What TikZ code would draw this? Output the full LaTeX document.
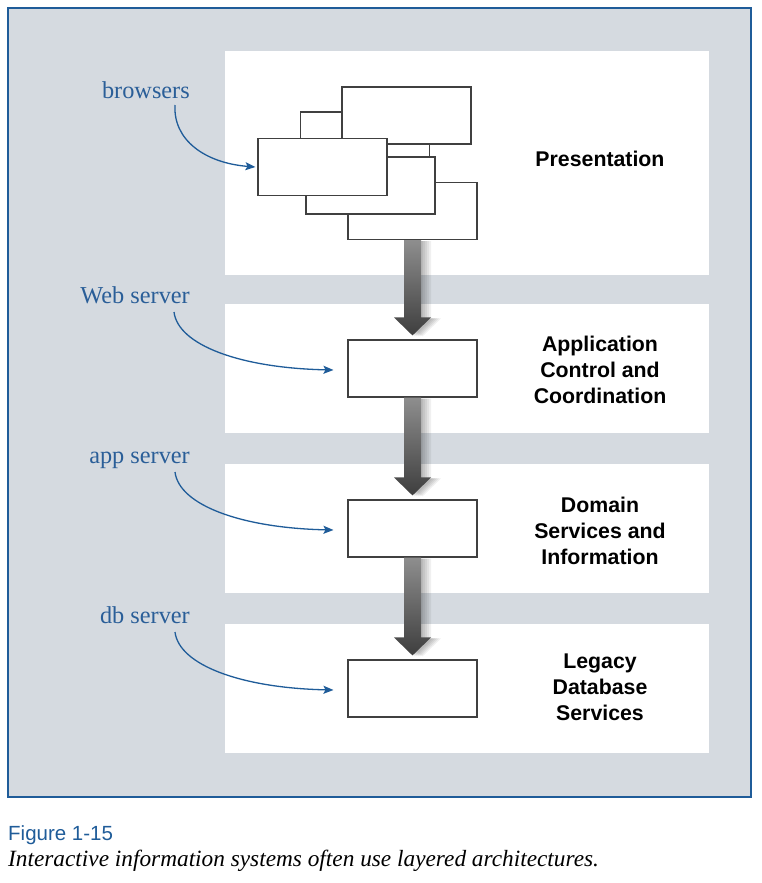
\documentclass[tikz,border=0pt]{standalone}
\usepackage{fontspec}
\newfontfamily\sansf{Liberation Sans}
\newfontfamily\seriff{Liberation Serif}
\usetikzlibrary{calc,arrows.meta}
\definecolor{bgray}{HTML}{D5DAE0}
\definecolor{fblue}{HTML}{1F5C99}
\definecolor{tblue}{HTML}{2A5E98}
\definecolor{atop}{HTML}{8E8E8E}
\definecolor{abot}{HTML}{3E3E3E}
\begin{document}
\begin{tikzpicture}[x=1pt,y=-1pt,
 win/.style={draw=black!75, line width=1.1pt, fill=white, inner sep=0pt, minimum width=129pt, minimum height=57pt},
 lbl/.style={text=tblue, font=\seriff\fontsize{24.3}{26}\selectfont, inner sep=0pt, anchor=base east},
 layer/.style={font=\sansf\bfseries\fontsize{21.3}{26}\selectfont, align=center, inner sep=0pt},
 curv/.style={draw=fblue, line width=1.3pt, -{Stealth[length=10pt,width=8pt,inset=2pt]}},
 fat/.style={top color=atop, bottom color=abot, draw=none},
 shad/.style={fill=black, opacity=0.06, draw=none}
]
\useasboundingbox (0,0) rectangle (761,883);
\filldraw[fill=bgray, draw=fblue, line width=2pt] (8,8) rectangle (751,797);
\fill[white] (225,51) rectangle (709,275);
\fill[white] (225,304) rectangle (709,433);
\fill[white] (225,464) rectangle (709,593);
\fill[white] (225,624) rectangle (709,753);

% browser windows (back to front)
\node[win] (E) at (412.5,211) {};
\node[win] (B) at (365,140.5) {};
\node[win] (A) at (406.5,115.5) {};
\node[win] (D) at (370.5,185.5) {};
\node[win] (C) at (322.5,167) {};

% server boxes
\node[win] (W) at (412.5,368.5) {};
\node[win] (P) at (412.5,528.5) {};
\node[win] (Q) at (412.5,688.5) {};

% layer titles
\node[layer] (t1) at (600,159) {Presentation};
\node[layer] (t2) at (600,370) {Application\\Control and\\Coordination};
\node[layer] (t3) at (600,531) {Domain\\Services and\\Information};
\node[layer] (t4) at (600,687) {Legacy\\Database\\Services};

% labels
\node[lbl] (l1) at (190,99) {browsers};
\node[lbl] (l2) at (190,303) {Web server};
\node[lbl] (l3) at (190,463) {app server};
\node[lbl] (l4) at (190,623) {db server};

\coordinate (s1) at (175,105);
\coordinate (s2) at (174,312);
\coordinate (s3) at (175,472);
\coordinate (s4) at (175,632);

\draw[curv] (s1) .. controls (173,140) and (205,163) .. ([xshift=-2pt]C.west);
\draw[curv] (s2) .. controls (178,345) and (240,368) .. ([xshift=-14pt,yshift=-1.5pt]W.west);
\draw[curv] (s3) .. controls (179,505) and (241,528) .. ([xshift=-14pt,yshift=-1.5pt]P.west);
\draw[curv] (s4) .. controls (179,665) and (241,688) .. ([xshift=-14pt,yshift=-1.5pt]Q.west);

% fat arrows with soft shadow
\foreach \s/\t in {E/W, W/P, P/Q}{
\foreach \d in {2,4,6,8,10}{
\path[shad] let \p1=(\s.south), \p2=(\t.north) in
  (\x1-8.5pt+\d pt,\y1-1pt) -- (\x1+8.5pt+\d pt,\y1-1pt) -- (\x1+8.5pt+\d pt,\y2+22pt-1pt) -- (\x1+18.5pt+\d pt,\y2+22pt-1pt)
  -- (\x1+\d pt,\y2+4pt-1pt) -- (\x1-18.5pt+\d pt,\y2+22pt-1pt) -- (\x1-8.5pt+\d pt,\y2+22pt-1pt) -- cycle;
}
\path[fat] let \p1=(\s.south), \p2=(\t.north) in
  (\x1-8.5pt,\y1) -- (\x1+8.5pt,\y1) -- (\x1+8.5pt,\y2+22pt) -- (\x1+18.5pt,\y2+22pt)
  -- (\x1,\y2+4pt) -- (\x1-18.5pt,\y2+22pt) -- (\x1-8.5pt,\y2+22pt) -- cycle;
}

% caption
\node[anchor=base west, inner sep=0pt, text=fblue, font=\sansf\fontsize{20.5}{22}\selectfont] (cap1) at (8,840) {Figure 1-15};
\node[anchor=base west, inner sep=0pt, font=\seriff\itshape\fontsize{23.3}{24}\selectfont] (cap2) at (8,866) {Interactive information systems often use layered architectures.};
\end{tikzpicture}
\end{document}
